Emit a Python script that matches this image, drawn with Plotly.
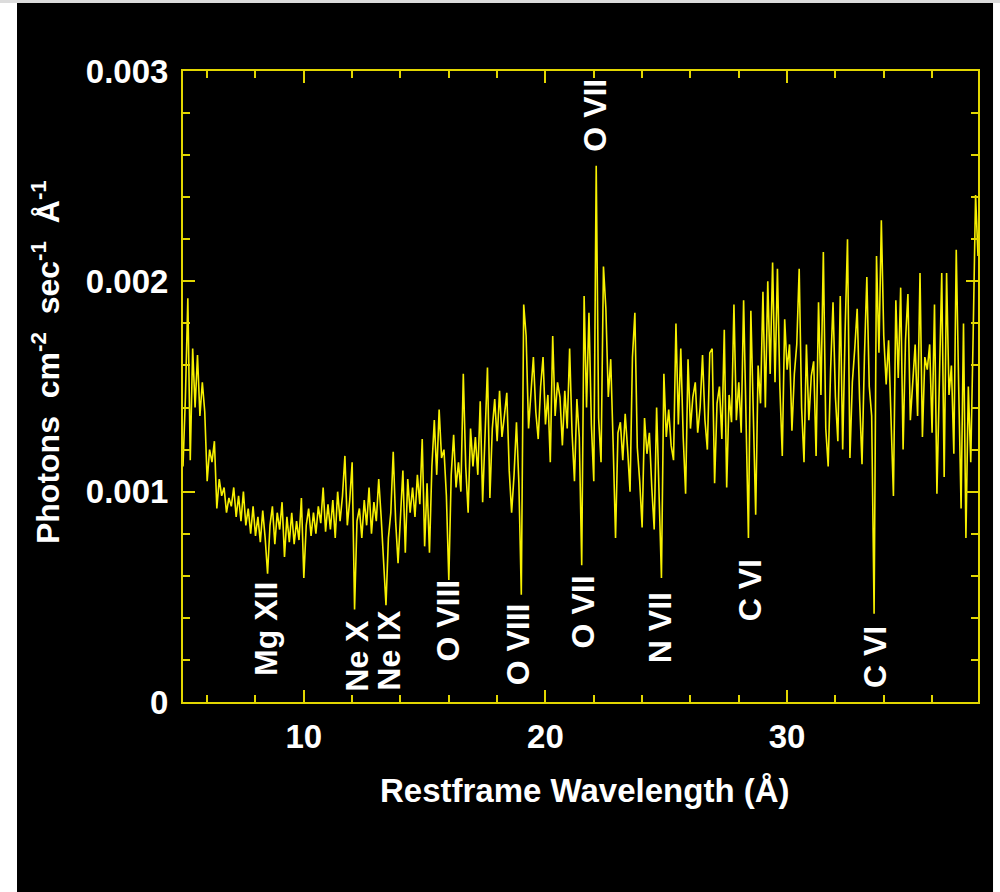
import plotly.graph_objects as go

# ---------------- data ----------------
# Spectrum: flux in units of 1e-4 photons cm^-2 s^-1 A^-1, 0.1 A bins starting at 5.0 A
wave_start = 5.0
wave_bin = 0.1
flux_e4 = [
    11.2, 14.5, 19.2, 11.5, 16.8, 14.0, 16.5, 13.6, 15.2, 13.8,   # 5
    10.5, 12.0, 11.4, 12.4, 9.2, 10.6, 9.8, 10.2, 9.0, 9.7,       # 6
    9.3, 10.2, 8.8, 9.8, 8.6, 10.0, 8.4, 9.2, 8.0, 9.3,           # 7
    7.9, 8.8, 7.6, 9.1, 7.8, 6.1, 8.4, 9.3, 7.5, 9.0,             # 8
    8.2, 9.5, 6.9, 8.8, 7.6, 9.0, 7.5, 8.6, 7.7, 9.7,             # 9
    5.9, 8.4, 9.2, 7.9, 9.0, 8.0, 9.3, 8.5, 10.2, 8.1,            # 10
    9.4, 8.2, 9.6, 7.8, 10.0, 8.6, 9.8, 11.7, 8.4, 9.6,           # 11
    11.4, 4.4, 8.6, 9.2, 7.8, 9.6, 8.4, 10.2, 8.0, 9.5,           # 12
    8.6, 10.6, 8.8, 6.6, 4.6, 7.8, 9.0, 11.9, 8.6, 6.6,           # 13
    9.2, 11.0, 7.1, 10.6, 9.0, 10.2, 8.8, 10.8, 9.4, 12.5,        # 14
    7.4, 10.4, 7.1, 11.2, 13.4, 10.8, 13.9, 11.6, 12.0, 9.8,      # 15
    5.8, 10.8, 12.7, 10.2, 11.4, 10.0, 15.6, 11.2, 9.0, 13.0,     # 16
    11.2, 12.6, 10.8, 14.3, 9.5, 13.2, 15.9, 9.7, 13.0, 14.4,     # 17
    12.4, 14.8, 12.6, 13.6, 14.7, 11.0, 9.0, 10.8, 13.3, 10.4,    # 18
    5.1, 18.9, 17.4, 13.0, 14.7, 16.4, 13.8, 12.5, 15.0, 16.4,    # 19
    13.2, 14.6, 11.4, 17.4, 13.6, 15.2, 14.5, 12.2, 14.8, 13.0,   # 20
    16.8, 12.8, 10.5, 14.4, 12.6, 6.5, 19.3, 14.0, 18.5, 13.2,    # 21
    10.5, 25.5, 13.5, 11.4, 20.7, 18.7, 14.5, 16.3, 12.3, 7.8,    # 22
    12.8, 13.3, 11.5, 13.7, 12.0, 10.0, 16.4, 18.5, 12.1, 10.5,   # 23
    8.3, 13.5, 11.8, 12.8, 10.2, 8.2, 14.0, 10.5, 5.9, 15.6,      # 24
    12.6, 13.9, 12.2, 11.5, 18.0, 13.2, 16.8, 12.6, 9.9, 16.3,    # 25
    13.0, 14.5, 15.2, 12.8, 14.0, 16.5, 13.4, 12.0, 16.6, 16.8,   # 26
    10.4, 14.2, 15.0, 12.5, 17.7, 10.2, 14.6, 13.3, 18.9, 13.4,   # 27
    15.2, 12.8, 19.1, 13.5, 7.8, 18.6, 13.2, 8.9, 16.0, 14.2,     # 28
    19.5, 14.0, 20.0, 15.6, 20.9, 15.2, 20.6, 15.0, 11.7, 18.2,   # 29
    15.8, 17.0, 12.9, 15.6, 17.0, 20.6, 14.0, 11.4, 17.0, 13.4,   # 30
    15.5, 16.2, 11.7, 19.0, 14.6, 21.4, 13.0, 11.2, 15.8, 19.0,   # 31
    14.5, 12.4, 19.3, 12.0, 17.6, 22.0, 11.6, 15.2, 16.8, 18.7,   # 32
    14.4, 11.3, 16.4, 20.2, 15.0, 13.6, 4.2, 21.2, 16.6, 22.9,    # 33
    17.4, 15.1, 17.2, 13.2, 9.8, 19.1, 15.4, 19.7, 12.0, 17.2,    # 34
    19.4, 13.4, 15.0, 17.0, 13.6, 20.4, 12.6, 16.4, 15.8, 17.0,   # 35
    12.8, 18.9, 9.9, 15.4, 20.4, 10.7, 20.4, 14.6, 16.0, 11.8,    # 36
    21.5, 15.0, 9.2, 18.0, 7.8, 15.0, 11.4, 17.5, 24.1, 21.2,     # 37
]
wavelength = [round(wave_start + wave_bin * i, 2) for i in range(len(flux_e4))]
flux = [v * 1e-4 for v in flux_e4]

line_names = ["Mg XII", "Ne X", "Ne IX", "O VIII", "O VIII", "O VII", "O VII", "N VII", "C VI", "C VI"]
line_wavelengths = [8.43, 12.19, 13.51, 15.95, 18.88, 21.57, 22.07, 24.75, 28.47, 33.64]
line_label_y = [0.000347, 0.000219, 0.000247, 0.000385, 0.000276, 0.000428, 0.00279, 0.000352, 0.000532, 0.000214]

y_tick_vals = [0, 0.001, 0.002, 0.003]
y_tick_text = ["0", "0.001", "0.002", "0.003"]
x_tick_vals = [10, 20, 30]
x_tick_text = ["10", "20", "30"]

# ---------------- figure ----------------
FONT = "Liberation Sans, Arial, sans-serif"
FRAME = "#e2d600"
SPEC = "#f7f000"

fig = go.Figure()
fig.add_trace(go.Scatter(x=wavelength, y=flux, mode="lines",
                         line=dict(color=SPEC, width=1.6), hoverinfo="skip"))

axis_common = dict(
    showline=True, linecolor=FRAME, linewidth=2, mirror="ticks",
    ticks="inside", tickcolor=FRAME, tickwidth=2, ticklen=12,
    showgrid=False, zeroline=False,
    tickfont=dict(family=FONT, size=33, color="white", weight="bold"),
)

fig.update_xaxes(range=[5.0, 37.9], tickvals=x_tick_vals, ticktext=x_tick_text,
                 ticklabelstandoff=4,
                 minor=dict(dtick=2, tick0=0, ticks="inside", ticklen=7, tickcolor=FRAME, tickwidth=2,
                            showgrid=False),
                 **axis_common)
fig.update_yaxes(range=[0, 0.003], tickvals=y_tick_vals, ticktext=y_tick_text,
                 ticklabelstandoff=6,
                 minor=dict(dtick=0.0002, tick0=0, ticks="inside", ticklen=7, tickcolor=FRAME, tickwidth=2,
                            showgrid=False),
                 **axis_common)

annotations = []
for name, wl, yy in zip(line_names, line_wavelengths, line_label_y):
    annotations.append(dict(x=wl, y=yy, xref="x", yref="y", text=name, showarrow=False,
                            textangle=-90, xanchor="center", yanchor="middle",
                            font=dict(family=FONT, size=32, color="white", weight="bold")))

annotations.append(dict(x=0.5057, y=-0.1395, xref="paper", yref="paper",
                        text="Restframe Wavelength (Å)", showarrow=False,
                        xanchor="center", yanchor="middle",
                        font=dict(family=FONT, size=33, color="white", weight="bold")))
annotations.append(dict(x=-0.1723, y=0.5388, xref="paper", yref="paper",
                        text="Photons\u00a0\u00a0cm<sup>-2</sup>\u00a0\u00a0sec<sup>-1</sup>\u00a0\u00a0Å<sup>-1</sup>",
                        showarrow=False, textangle=-90, xanchor="center", yanchor="middle",
                        font=dict(family=FONT, size=32, color="white", weight="bold")))

shapes = [
    dict(type="rect", xref="paper", yref="paper", x0=-0.2302, x1=-0.2088, y0=-0.3011, y1=1.1125,
         fillcolor="white", line=dict(width=0), layer="below"),
    dict(type="rect", xref="paper", yref="paper", x0=1.0189, x1=1.0277, y0=-0.3011, y1=1.1125,
         fillcolor="white", line=dict(width=0), layer="below"),
    dict(type="rect", xref="paper", yref="paper", x0=-0.2302, x1=1.0277, y0=1.1078, y1=1.1125,
         fillcolor="#dcdcdc", line=dict(width=0), layer="below"),
]

fig.update_layout(
    width=1000, height=892,
    margin=dict(l=183, r=22, t=71, b=190),
    paper_bgcolor="black", plot_bgcolor="black",
    showlegend=False,
    annotations=annotations,
    shapes=shapes,
)

fig.write_html("out.html")
